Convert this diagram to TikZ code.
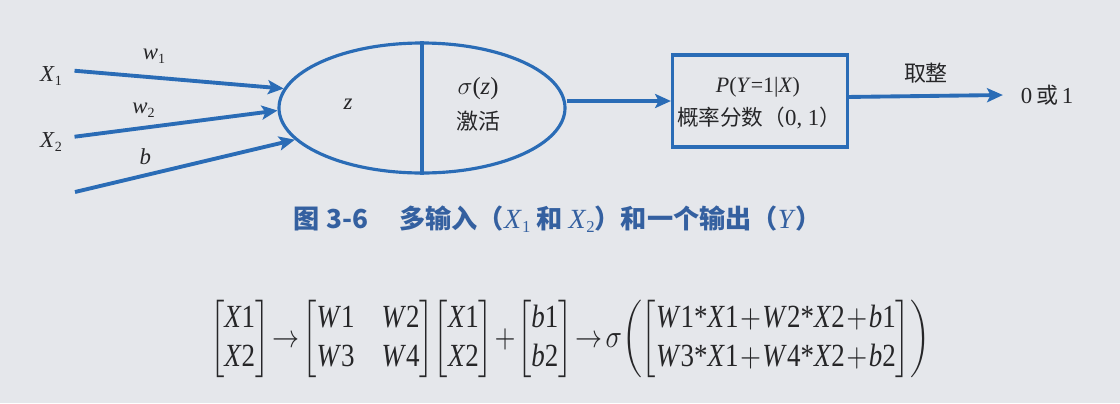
\documentclass[tikz,border=0pt]{standalone}
\usepackage{amsmath}
\usepackage{fontspec}
\setmainfont{Liberation Serif}
\newfontfamily\cjk{Noto Sans CJK SC}
\usetikzlibrary{arrows.meta,shapes.geometric}
\definecolor{bg}{RGB}{229,231,235}
\definecolor{lineblue}{RGB}{42,108,182}
\definecolor{capblue}{RGB}{52,96,160}
\definecolor{ink}{RGB}{38,38,40}
\newcommand\ee[2]{\mbox{\textit{#1}#2}}
\newcommand\st{\mbox{*}}
\begin{document}
\begin{tikzpicture}[x=0.02cm,y=-0.02cm,
  wire/.style={draw=lineblue,line width=2.2pt,-{Stealth[length=9pt,width=8pt,inset=2pt]}},
  lbl/.style={text=ink,font=\fontsize{13}{15}\selectfont,inner sep=1pt},
  cjklbl/.style={text=ink,font=\cjk\fontsize{12.5}{14}\selectfont,inner sep=1pt}]
\fill[bg] (0,0) rectangle (1120,403);
\useasboundingbox (0,0) rectangle (1120,403);
% inputs
\node[lbl,anchor=east] (x1) at (64,76) {\textit{X}\raisebox{-0.35ex}{\fontsize{8}{9}\selectfont 1}};
\node[lbl,anchor=east] (x2) at (64,142) {\textit{X}\raisebox{-0.35ex}{\fontsize{8}{9}\selectfont 2}};
\coordinate (bin) at (75,192);
% ellipse
\node[draw=lineblue,line width=1.8pt,ellipse,minimum width=286*0.02cm,minimum height=130*0.02cm,inner sep=0pt] (ell) at (422,108) {};
\draw[draw=lineblue,line width=1.8pt] (ell.north) -- (ell.south);
\node[lbl] (z) at (348,104) {\textit{z}};
\node[lbl,font=\fontsize{14}{16}\selectfont] (sig) at (478,89) {$\sigma$(\textit{z})};
\node[cjklbl] (act) at (478,121) {激活};
% arrows in
\draw[wire] ([xshift=6pt,yshift=3pt]x1.east) -- (ell.172) node[pos=0.38,above=6pt,lbl] (w1) {\textit{w}\raisebox{-0.35ex}{\fontsize{8}{9}\selectfont 1}};
\draw[wire] ([xshift=6pt,yshift=3pt]x2.east) -- (ell.181) node[pos=0.34,above=4pt,lbl] (w2) {\textit{w}\raisebox{-0.35ex}{\fontsize{8}{9}\selectfont 2}};
\draw[wire] (bin) -- (ell.194) node[pos=0.32,above=4pt,lbl] (bl) {\textit{b}};
% box
\node[draw=lineblue,line width=1.8pt,minimum width=175*0.02cm,minimum height=92*0.02cm,inner sep=0pt] (box) at (760,101) {};
\node[lbl,font=\fontsize{12.5}{14}\selectfont] (p) at (758,87) {\textit{P}(\textit{Y}=1|\textit{X})};
\node[cjklbl,font=\cjk\fontsize{12.3}{14}\selectfont] (score) at (759,118) {概率分数（\fontsize{13}{14}\selectfont\rmfamily 0, 1\cjk\fontsize{12.3}{14}\selectfont ）};
\draw[wire] (ell.east |- box.west) -- (box.west);
% output
\node[text=ink,inner sep=1pt] (out) at (1047,95) {\fontsize{13}{14}\selectfont 0\,{\cjk\fontsize{12.5}{14}\selectfont 或}\,1};
\draw[wire] ([yshift=2.3pt]box.east) -- ([xshift=-9pt]out.west) node[midway,above=5pt,cjklbl] (round) {取整};
% caption
\node[text=capblue,inner sep=0pt] (cap) at (558,219) {\cjk\bfseries\fontsize{14.9}{16}\selectfont 图 3-6\hspace{1.2em}多输入（{\rmfamily\mdseries\fontsize{15.8}{16}\selectfont\textit{X}\raisebox{-0.3ex}{\fontsize{9.5}{10}\selectfont 1}} 和 {\rmfamily\mdseries\fontsize{15.8}{16}\selectfont\textit{X}\raisebox{-0.3ex}{\fontsize{9.5}{10}\selectfont 2}}）和一个输出（{\rmfamily\mdseries\fontsize{15.8}{16}\selectfont\textit{Y}}）};
% formula
\node[text=ink,inner sep=0pt] (form) at (570,339) {\resizebox*{14.4cm}{1.55cm}{$\begin{bmatrix}\ee{X}{1}\\ \ee{X}{2}\end{bmatrix}\!\rightarrow\!\begin{bmatrix}\ee{W}{1} & \ee{W}{2}\\ \ee{W}{3} & \ee{W}{4}\end{bmatrix}\!\begin{bmatrix}\ee{X}{1}\\ \ee{X}{2}\end{bmatrix}\!+\!\begin{bmatrix}\ee{b}{1}\\ \ee{b}{2}\end{bmatrix}\!\rightarrow\!\sigma\!\left(\begin{bmatrix}\ee{W}{1}\st\ee{X}{1}\!+\!\ee{W}{2}\st\ee{X}{2}\!+\!\ee{b}{1}\\ \ee{W}{3}\st\ee{X}{1}\!+\!\ee{W}{4}\st\ee{X}{2}\!+\!\ee{b}{2}\end{bmatrix}\right)$}};
\end{tikzpicture}
\end{document}
